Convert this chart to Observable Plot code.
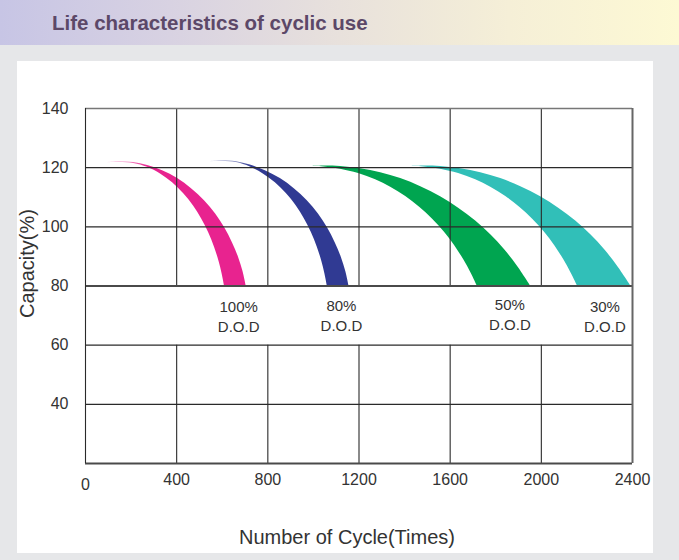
<!DOCTYPE html>
<html>
<head>
<meta charset="utf-8">
<script src="https://cdn.jsdelivr.net/npm/d3@7"></script>
<script src="https://cdn.jsdelivr.net/npm/@observablehq/plot@0.6"></script>
<style>
html, body { margin: 0; padding: 0; }
body { width: 679px; height: 560px; background: #e6e7e9; position: relative; overflow: hidden; font-family: "Liberation Sans", Arial, sans-serif; }
#header { position: absolute; left: 0; top: 0; width: 679px; height: 45px;
  background: linear-gradient(to right, #c7c5e5 0%, #d8d2e2 25%, #e8e1dc 50%, #f5efd7 75%, #fdf9d4 100%); }
#title { position: absolute; left: 52px; top: 11px; font-weight: bold; font-size: 20.5px; color: #5c4868; white-space: nowrap; }
#panel { position: absolute; left: 17px; top: 61px; width: 636px; height: 492px; background: #fff; }
#chart { position: absolute; left: 0; top: 61px; width: 679px; }
</style>
</head>
<body>
<div id="header"></div>
<div id="title">Life characteristics of cyclic use</div>
<div id="panel"></div>
<div id="chart"></div>
<svg width="0" height="0" style="position:absolute;left:0;top:0">
  <defs>
    <linearGradient id="gPink" x1="0" x2="1" y1="0" y2="0">
      <stop offset="0" stop-color="#e8238f" stop-opacity="0.08"/>
      <stop offset="0.3" stop-color="#e8238f" stop-opacity="1"/>
    </linearGradient>
    <linearGradient id="gBlue" x1="0" x2="1" y1="0" y2="0">
      <stop offset="0" stop-color="#303a93" stop-opacity="0.08"/>
      <stop offset="0.3" stop-color="#303a93" stop-opacity="1"/>
    </linearGradient>
  </defs>
</svg>
<script>
// ---- axes / ticks ----
const xTicks = [0, 400, 800, 1200, 1600, 2000, 2400];
const yGrid = [20, 40, 60, 80, 100, 120, 140];
const yLabels = [40, 60, 80, 100, 120, 140];
const xTitle = "Number of Cycle(Times)";
const yTitle = "Capacity(%)";

// ---- bands: outer (upper-right) edge and inner (lower-left) edge, paired point by point ----
// 100% D.O.D
const pinkOuterX = [97, 149, 211, 272, 338, 404, 465, 522, 571, 610, 645, 672, 691, 705];
const pinkOuterY = [121.78, 122.02, 121.71, 120.77, 118.97, 116.33, 112.91, 108.81, 104.34, 99.74, 94.55, 89.58, 84.90, 80];
const pinkInnerX = [97, 149, 211, 272, 329, 382, 430, 474, 509, 540, 566, 586, 599, 610];
const pinkInnerY = [121.68, 121.75, 121.44, 120.12, 117.89, 114.91, 111.28, 107.05, 102.75, 98.11, 93.10, 88.32, 84.26, 80];
// 80% D.O.D
const blueOuterX = [548, 600, 662, 723, 789, 855, 916, 973, 1022, 1061, 1096, 1123, 1142, 1156];
const blueOuterY = [122.08, 122.32, 122.01, 120.87, 118.97, 116.33, 112.91, 108.81, 104.34, 99.74, 94.55, 89.58, 84.90, 80];
const blueInnerX = [548, 600, 662, 723, 780, 833, 881, 925, 960, 991, 1017, 1037, 1050, 1061];
const blueInnerY = [121.98, 122.05, 121.74, 120.22, 117.89, 114.91, 111.28, 107.05, 102.75, 98.11, 93.10, 88.32, 84.26, 80];
// 50% D.O.D
const greenOuterX = [995, 1054, 1119, 1207, 1295, 1383, 1471, 1558, 1637, 1712, 1778, 1839, 1896, 1953];
const greenOuterY = [120.39, 120.53, 120.36, 119.61, 118.26, 116.30, 113.59, 110.17, 106.31, 101.94, 97.30, 92.22, 86.60, 80];
const greenInnerX = [995, 1054, 1119, 1198, 1273, 1339, 1405, 1466, 1523, 1576, 1620, 1659, 1692, 1719];
const greenInnerY = [120.36, 120.16, 119.48, 118.02, 115.89, 113.42, 110.27, 106.64, 102.58, 98.08, 93.64, 88.93, 84.33, 80];
// 30% D.O.D
const tealOuterX = [1430, 1493, 1558, 1646, 1734, 1822, 1910, 1997, 2076, 2151, 2217, 2278, 2335, 2393];
const tealOuterY = [120.39, 120.53, 120.36, 119.61, 118.26, 116.30, 113.59, 110.17, 106.31, 101.94, 97.30, 92.22, 86.60, 80];
const tealInnerX = [1430, 1493, 1558, 1637, 1712, 1778, 1844, 1905, 1962, 2015, 2059, 2098, 2131, 2159];
const tealInnerY = [120.36, 120.16, 119.48, 118.02, 115.89, 113.42, 110.27, 106.64, 102.58, 98.08, 93.64, 88.93, 84.33, 80];

// ---- D.O.D labels ----
const dodText = ["100%\nD.O.D", "80%\nD.O.D", "50%\nD.O.D", "30%\nD.O.D"];
const dodX = [672, 1123, 1862, 2279];
const dodY = [69.9, 70.2, 70.6, 70.1];

function band(ox, oy, ix, iy) {
  return ox.map((x, i) => ({x1: x, y1: oy[i], x2: ix[i], y2: iy[i]}));
}
const bands = [
  {data: band(pinkOuterX, pinkOuterY, pinkInnerX, pinkInnerY), fill: "url(#gPink)"},
  {data: band(blueOuterX, blueOuterY, blueInnerX, blueInnerY), fill: "url(#gBlue)"},
  {data: band(greenOuterX, greenOuterY, greenInnerX, greenInnerY), fill: "#00a550"},
  {data: band(tealOuterX, tealOuterY, tealInnerX, tealInnerY), fill: "#31bfb8"}
];
const labels = dodText.map((t, i) => ({t, x: dodX[i], y: dodY[i]}));

const xMin = xTicks[0], xMax = xTicks[xTicks.length - 1];
const yMin = yGrid[0], yMax = yGrid[yGrid.length - 1];
const y60 = yGrid[2], y80 = yGrid[3];

const chart = Plot.plot({
  width: 679,
  height: 492,
  marginLeft: 85,
  marginRight: 47,
  marginTop: 47,
  marginBottom: 90,
  style: {background: "transparent", fontFamily: "'Liberation Sans', Arial, sans-serif", color: "#333"},
  x: {domain: [xMin, xMax]},
  y: {domain: [yMin, yMax]},
  marks: [
    ...bands.map(b => Plot.area(b.data, {x1: "x1", y1: "y1", x2: "x2", y2: "y2", fill: b.fill, curve: "catmull-rom"})),
    // interior vertical grid: absent in the label row (60–80)
    Plot.ruleX(xTicks.slice(1, -1), {y1: y80, y2: yMax, stroke: "#2a2a2a", strokeWidth: 1.1}),
    Plot.ruleX(xTicks.slice(1, -1), {y1: yMin, y2: y60, stroke: "#2a2a2a", strokeWidth: 1.1}),
    Plot.ruleY(yGrid.filter(v => v !== y80 && v !== yMin && v !== yMax), {x1: xMin, x2: xMax, stroke: "#2a2a2a", strokeWidth: 1.1}),
    Plot.ruleY([yMax], {x1: xMin, x2: xMax, stroke: "#777", strokeWidth: 1.4}),
    Plot.ruleY([y80, yMin], {x1: xMin, x2: xMax, stroke: "#4a4a4a", strokeWidth: 2}),
    Plot.ruleX([xMin], {y1: yMin, y2: yMax, stroke: "#2a2a2a", strokeWidth: 1.1}),
    Plot.ruleX([xMax], {y1: yMin, y2: yMax, stroke: "#666", strokeWidth: 2}),
    Plot.axisY(yLabels, {tickSize: 0, tickPadding: 17, fontSize: 16, fill: "#333", label: null, tickFormat: "d"}),
    Plot.axisX(xTicks.slice(1), {tickSize: 0, tickPadding: 10, fontSize: 16, fill: "#333", label: null, tickFormat: "d"}),
    Plot.axisX(xTicks.slice(0, 1), {tickSize: 0, tickPadding: 15, fontSize: 16, fill: "#333", label: null, tickFormat: "d"}),
    Plot.text(labels, {x: "x", y: "y", text: "t", fontSize: 15, fill: "#333", lineHeight: 1.33, textAnchor: "middle", lineAnchor: "middle"}),
    Plot.text([xTitle], {frameAnchor: "bottom", dx: -12, dy: 74, fontSize: 20, fill: "#333", textAnchor: "middle", lineAnchor: "middle"}),
    Plot.text([yTitle], {frameAnchor: "left", rotate: -90, dx: -57.5, dy: -22.5, fontSize: 20, fill: "#333", textAnchor: "middle", lineAnchor: "middle"})
  ]
});
document.getElementById("chart").appendChild(chart);
</script>
</body>
</html>
